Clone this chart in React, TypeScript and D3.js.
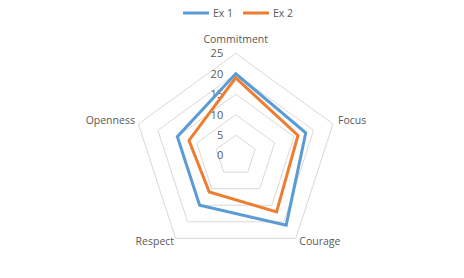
import React from "react";
import * as d3 from "d3";

const categories = ["Commitment", "Focus", "Courage", "Respect", "Openness"];
const seriesNames = ["Ex 1", "Ex 2"];
const ex1 = [20, 18, 21, 15, 15];
const ex2 = [19, 16, 17, 11, 12];
const ticks = [0, 5, 10, 15, 20, 25];
const colors = ["#5B9BD5", "#ED7D31"];

const W = 464, H = 278;
const cx = 235.7, cy = 155.6, R = 102.3;
const FONT = "'Open Sans', 'Liberation Sans', sans-serif";
const TXT = "#595959";

export default function App() {
  const r = d3.scaleLinear().domain([0, 25]).range([0, R]);
  const ang = d3.scalePoint<string>().domain(categories).range([0, 2 * Math.PI * (categories.length - 1) / categories.length]);
  const pt = (c: string, v: number): [number, number] => {
    const a = ang(c)!;
    return [cx + r(v) * Math.sin(a), cy - r(v) * Math.cos(a)];
  };
  const closed = d3.line().curve(d3.curveLinearClosed);
  const series = [ex1, ex2];

  const labelPos = (c: string) => {
    const a = ang(c)!;
    const [vx, vy] = pt(c, 25);
    const s = Math.sin(a);
    if (Math.abs(s) < 0.01) return { x: vx, y: vy - 14, anchor: "middle" };
    if (Math.cos(a) > 0) {
      return { x: vx + (s > 0 ? 5 : -3.5), y: vy - 4, anchor: s > 0 ? "start" : "end" };
    }
    return { x: vx + (s > 0 ? 3.5 : -1.5), y: vy + 3, anchor: s > 0 ? "start" : "end" };
  };

  return (
    <svg width={W} height={H} style={{ position: "absolute", left: 0, top: 0, background: "#fff" }}>
      <rect x={0} y={0} width={W} height={H} fill="#fff" />
      {ticks.filter(t => t > 0).map(t => (
        <path key={t} d={closed(categories.map(c => pt(c, t)))!} fill="none" stroke="#D9D9D9" strokeWidth={1} />
      ))}
      {ticks.map(t => (
        <text key={"t" + t} x={cx - 12.5} y={cy - r(t)} dy="0.35em" textAnchor="end" fontFamily={FONT} fontSize={11} fill={TXT}>{t}</text>
      ))}
      {series.map((s, i) => (
        <path key={i} d={closed(categories.map((c, j) => pt(c, s[j])))!} fill="none" stroke={colors[i]} strokeWidth={3} strokeLinejoin="miter" />
      ))}
      {categories.map(c => {
        const p = labelPos(c);
        return <text key={c} x={p.x} y={p.y} dy="0.35em" textAnchor={p.anchor as any} fontFamily={FONT} fontSize={10.5} fill={TXT}>{c}</text>;
      })}
      {seriesNames.map((n, i) => {
        const x0 = 183 + i * 60;
        return (
          <g key={n}>
            <line x1={x0} x2={x0 + 26} y1={13} y2={13} stroke={colors[i]} strokeWidth={3} />
            <text x={x0 + 30} y={13} dy="0.35em" fontFamily={FONT} fontSize={10.5} fill={TXT}>{n}</text>
          </g>
        );
      })}
    </svg>
  );
}
